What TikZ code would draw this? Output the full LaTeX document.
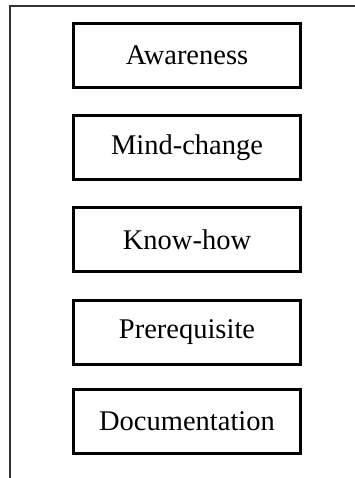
\documentclass[tikz,border=0pt]{standalone}
\usepackage{fontspec}
\setmainfont{Liberation Serif}
\usepackage{tikz}
\usetikzlibrary{calc}

\begin{document}
\begin{tikzpicture}[x=1pt,y=-1pt,
    stage/.style={draw, line width=3pt, minimum width=227pt, minimum height=64pt,
      inner sep=0pt, font=\fontsize{28.5}{33}\selectfont},
    frame/.style={line width=1.2pt, black!80}]
      \useasboundingbox (0,0) rectangle (355,478);

      % outer frame (only top and left side visible)
      \coordinate (fbl) at (10,478);
      \coordinate (ftl) at (10,6);
      \coordinate (ftr) at (355,6);
      \draw[frame] (fbl) -- (ftl) -- (ftr);

      \node[stage] (aware) at (187,55.5) {Awareness};
      \node[stage] (mind) at (187,147.5) {Mind-change};
      \node[stage] (know) at (187,239.5) {Know-how};
      \node[stage] (prereq) at (187,332.5) {Prerequisite};
      \node[stage] (doc) at (187,421.5) {Documentation};
    \end{tikzpicture}
\end{document}
